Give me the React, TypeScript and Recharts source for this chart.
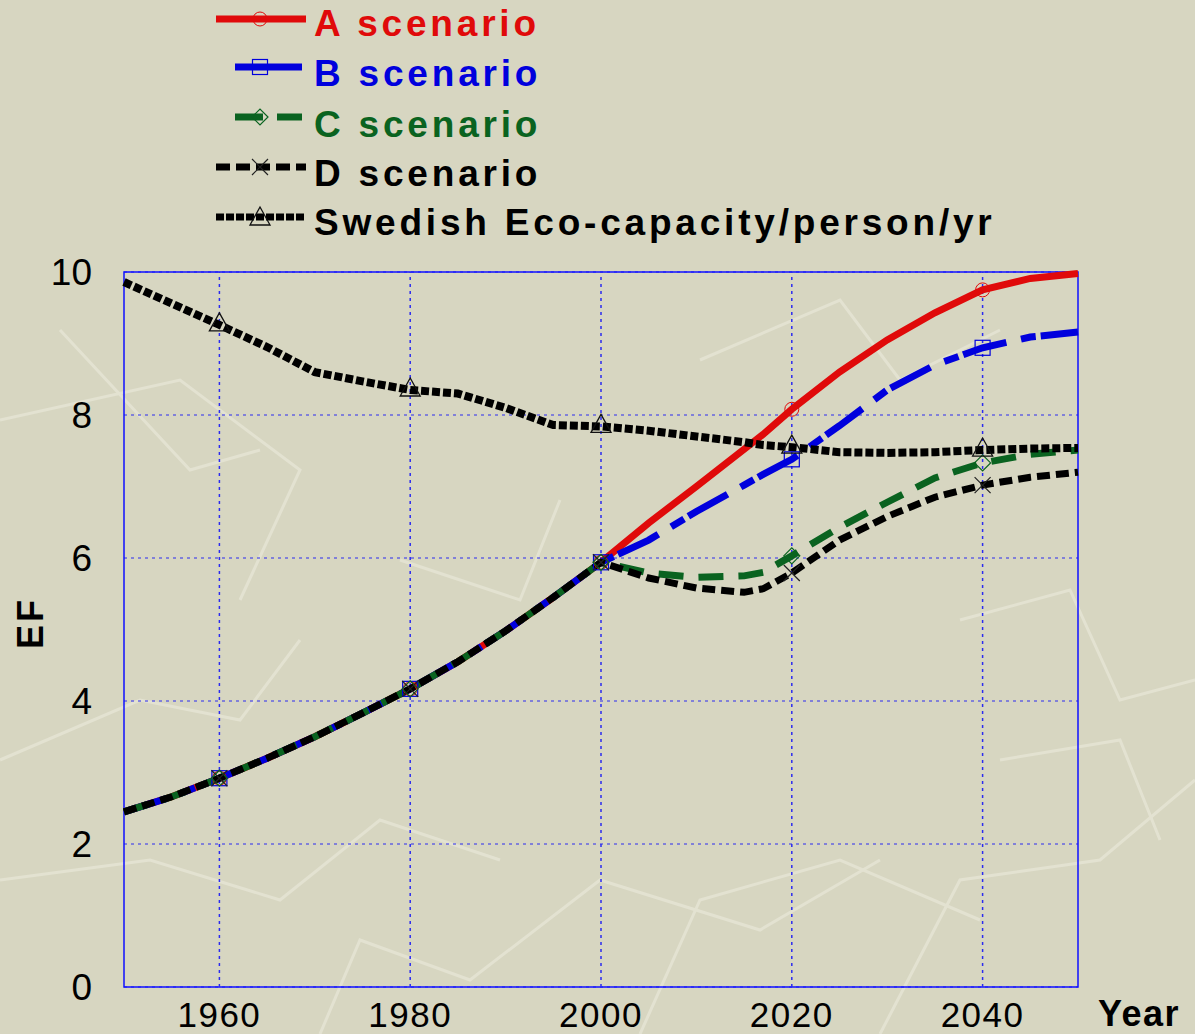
import React from 'react';
import { LineChart, Line, XAxis, YAxis, CartesianGrid, ReferenceArea, ReferenceLine } from 'recharts';

// years sampled for every series
const years = [1950, 1955, 1960, 1965, 1970, 1975, 1980, 1985, 1990, 1995, 2000, 2005, 2010, 2015, 2017, 2020, 2025, 2030, 2035, 2040, 2045, 2050];

// shared history 1950-2000
const history = [2.45, 2.66, 2.92, 3.2, 3.5, 3.83, 4.17, 4.55, 4.98, 5.45, 5.94];

// scenario projections 2005-2050
const scenarioA = [6.49, 7.0, 7.52, 7.73, 8.08, 8.6, 9.05, 9.43, 9.75, 9.91, 9.98];
const scenarioB = [6.25, 6.65, 7.02, 7.17, 7.38, 7.85, 8.35, 8.7, 8.94, 9.09, 9.16];
const scenarioC = [5.79, 5.73, 5.75, 5.8, 6.03, 6.43, 6.78, 7.12, 7.33, 7.45, 7.51];
const scenarioD = [5.72, 5.58, 5.52, 5.57, 5.79, 6.25, 6.58, 6.85, 7.02, 7.13, 7.2];

const swedishCapacity = [9.86, 9.56, 9.26, 8.95, 8.6, 8.47, 8.35, 8.3, 8.1, 7.86, 7.84, 7.78, 7.7, 7.62, 7.58, 7.55, 7.48, 7.47, 7.48, 7.51, 7.53, 7.54];

const markerYears = [1960, 1980, 2000, 2020, 2040];
const xTicks = [1960, 1980, 2000, 2020, 2040];
const yTicks = [0, 2, 4, 6, 8, 10];

const data = years.map((year, i) => ({
  year,
  a: i < history.length ? history[i] : scenarioA[i - history.length],
  b: i < history.length ? history[i] : scenarioB[i - history.length],
  c: i < history.length ? history[i] : scenarioC[i - history.length],
  d: i < history.length ? history[i] : scenarioD[i - history.length],
  s: swedishCapacity[i],
}));

const RED = '#e00a0a';
const BLUE = '#0000dd';
const GREEN = '#0a6320';
const BLACK = '#000000';
const GRID = '#2b2bf0';

function marker(kind: string, x: number, y: number) {
  if (kind === 'circle') return <circle cx={x} cy={y} r={7} fill="none" stroke={RED} strokeWidth={1} />;
  if (kind === 'square') return <rect x={x - 7.5} y={y - 7.5} width={15} height={15} fill="none" stroke={BLUE} strokeWidth={1.2} />;
  if (kind === 'diamond')
    return <path d={`M${x - 8},${y}L${x},${y - 8}L${x + 8},${y}L${x},${y + 8}Z`} fill="none" stroke={GREEN} strokeWidth={1.2} />;
  if (kind === 'cross')
    return <path d={`M${x - 8},${y - 8}L${x + 8},${y + 8}M${x + 8},${y - 8}L${x - 8},${y + 8}`} stroke="#222" strokeWidth={1.2} />;
  return <path d={`M${x},${y - 12}L${x + 10},${y + 6}L${x - 10},${y + 6}Z`} fill="none" stroke="#111" strokeWidth={1.3} />;
}

const dotFor = (kind: string) => (props: any) => {
  const { cx, cy, payload, index } = props;
  if (!markerYears.includes(payload.year)) return <g key={`${kind}-${index}`} />;
  return <g key={`${kind}-${index}`}>{marker(kind, cx, cy)}</g>;
};

const legendItems = [
  { label: 'A scenario', color: RED, dash: undefined, kind: 'circle', x1: 216, x2: 306, y: 19, base: 36 },
  { label: 'B scenario', color: BLUE, dash: undefined, kind: 'square', x1: 235, x2: 302, y: 67, base: 86 },
  { label: 'C scenario', color: GREEN, dash: '28 14', kind: 'diamond', x1: 235, x2: 302, y: 117, base: 137 },
  { label: 'D scenario', color: BLACK, dash: '14 6', kind: 'cross', x1: 216, x2: 306, y: 167, base: 186 },
  { label: 'Swedish Eco-capacity/person/yr', color: BLACK, dash: '8 2', kind: 'triangle', x1: 216, x2: 304, y: 217, base: 235 },
];

function LegendBox() {
  return (
    <svg width={1100} height={250} style={{ position: 'absolute', left: 0, top: 0 }}>
      {legendItems.map((it) => (
        <g key={it.label}>
          <line x1={it.x1} x2={it.x2} y1={it.y} y2={it.y} stroke={it.color} strokeWidth={7} strokeDasharray={it.dash} />
          {marker(it.kind, 260, it.kind === 'triangle' ? it.y + 2 : it.y)}
          <text
            x={314}
            y={it.base}
            fill={it.color}
            fontSize={37}
            fontWeight="bold"
            letterSpacing={3.8}
            fontFamily="'Liberation Sans', Arial, sans-serif"
          >
            {it.label}
          </text>
        </g>
      ))}
    </svg>
  );
}

// faint decorative strokes in the slide background
const bgLines = [
  'M0,420 L180,380 L300,470 L240,600',
  'M60,330 L190,470 L260,450',
  'M0,760 L140,700 L240,720 L300,640',
  'M0,880 L150,860 L280,900 L380,820 L500,860',
  'M320,1034 L360,940 L470,980 L600,880 L760,930 L880,860',
  'M640,1034 L700,900 L840,860 L980,920',
  'M880,1034 L960,880 L1100,860 L1195,780',
  'M700,360 L840,300 L900,380 L1000,330',
  'M960,620 L1070,590 L1120,700 L1195,680',
  'M1000,760 L1120,740 L1160,840',
  'M400,560 L520,600 L560,500',
];

export default function App() {
  return (
    <div
      style={{
        position: 'absolute',
        left: 0,
        top: 0,
        width: 1195,
        height: 1034,
        background: '#d7d6c1',
        fontFamily: "'Liberation Sans', Arial, sans-serif",
        overflow: 'hidden',
      }}
    >
      <svg width={1195} height={1034} style={{ position: 'absolute', left: 0, top: 0 }}>
        {bgLines.map((d, i) => (
          <path key={i} d={d} fill="none" stroke="#e3e2d1" strokeWidth={3} />
        ))}
      </svg>
      <div style={{ position: 'absolute', left: 0, top: 0 }}>
        <LineChart width={1195} height={1034} data={data} margin={{ top: 272, right: 117, bottom: 0, left: 0 }}>
          <CartesianGrid stroke={GRID} strokeDasharray="3 4" strokeWidth={1} vertical={false} />
          <XAxis
            dataKey="year"
            type="number"
            domain={[1950, 2050]}
            ticks={xTicks}
            height={47}
            axisLine={false}
            tickLine={false}
            tickMargin={9}
            tick={{ fill: '#000', fontSize: 35, letterSpacing: 1.5 }}
          />
          <YAxis
            type="number"
            domain={[0, 10]}
            ticks={yTicks}
            width={124}
            axisLine={false}
            tickLine={false}
            tickMargin={26}
            tick={{ fill: '#000', fontSize: 37 }}
          />
          {xTicks.map((t) => (
            <ReferenceLine key={t} x={t} stroke={GRID} strokeWidth={1.5} strokeDasharray="3 4" />
          ))}
          <ReferenceArea x1={1950} x2={2050} y1={0} y2={10} fill="none" stroke="#1010ff" strokeWidth={1.5} />
          <Line dataKey="a" type="linear" stroke={RED} strokeWidth={7} dot={dotFor('circle')} isAnimationActive={false} />
          <Line dataKey="b" type="linear" stroke={BLUE} strokeWidth={7} strokeDasharray="45 15 15 5" dot={dotFor('square')} isAnimationActive={false} />
          <Line dataKey="c" type="linear" stroke={GREEN} strokeWidth={7} strokeDasharray="25 15" dot={dotFor('diamond')} isAnimationActive={false} />
          <Line dataKey="d" type="linear" stroke={BLACK} strokeWidth={7} strokeDasharray="13 6" dot={dotFor('cross')} isAnimationActive={false} />
          <Line dataKey="s" type="linear" stroke={BLACK} strokeWidth={8} strokeDasharray="8 3" dot={dotFor('triangle')} isAnimationActive={false} />
        </LineChart>
      </div>
      <LegendBox />
      <div
        style={{
          position: 'absolute',
          left: 31,
          top: 623,
          transform: 'translate(-50%, -50%) rotate(-90deg)',
          fontSize: 36,
          fontWeight: 'bold',
          letterSpacing: 3,
          color: '#000',
          lineHeight: 1,
          whiteSpace: 'nowrap',
        }}
      >
        EF
      </div>
      <div
        style={{
          position: 'absolute',
          left: 1098,
          top: 996,
          fontSize: 36,
          fontWeight: 'bold',
          letterSpacing: 1.5,
          color: '#000',
          lineHeight: 1,
          whiteSpace: 'nowrap',
        }}
      >
        Year
      </div>
    </div>
  );
}
